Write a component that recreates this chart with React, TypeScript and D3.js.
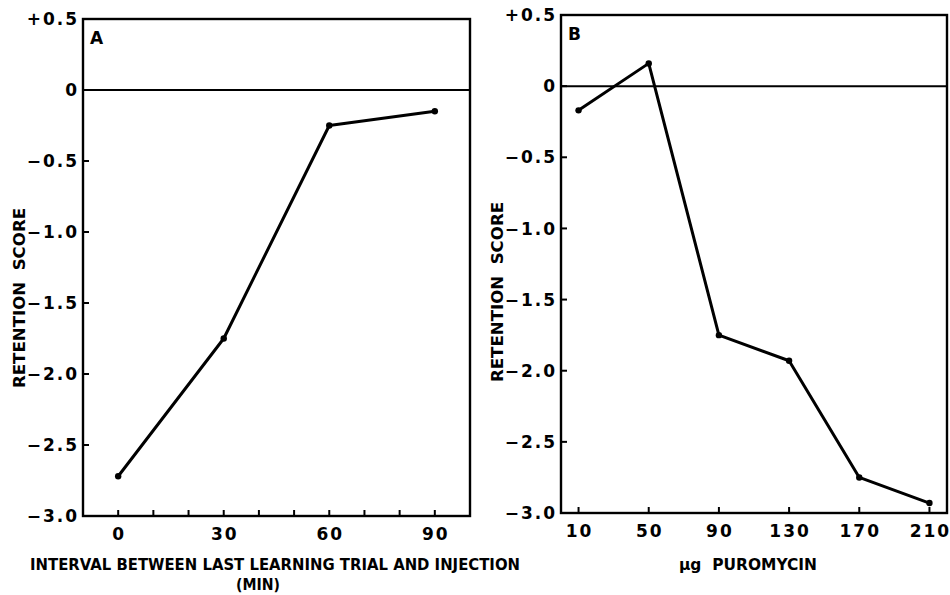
import React, { useRef, useEffect } from 'react';
import * as d3 from 'd3';

// Panel A: retention vs interval between last learning trial and injection
const intervalMin = [0, 30, 60, 90];
const intervalScore = [-2.72, -1.75, -0.25, -0.15];

// Panel B: retention vs puromycin dose
const doseUg = [10, 50, 90, 130, 170, 210];
const doseScore = [-0.17, 0.16, -1.75, -1.93, -2.75, -2.93];

const yTicks = [0.5, 0, -0.5, -1.0, -1.5, -2.0, -2.5, -3.0];
const yTickLabels = ['+0.5', '0', '\u22120.5', '\u22121.0', '\u22121.5', '\u22122.0', '\u22122.5', '\u22123.0'];
const xTicksA = [0, 10, 20, 30, 40, 50, 60, 70, 80, 90];
const xLabelsA = [0, 30, 60, 90];
const xTicksB = [10, 50, 90, 130, 170, 210];

const FONT = "'DejaVu Sans', 'Liberation Sans', sans-serif";
const W = 950;
const H = 595;

interface PanelCfg {
  left: number; right: number; top: number; bottom: number;
  xDomain: [number, number];
  xs: number[]; ys: number[];
  ticks: number[]; labels: number[];
  letter: string;
  yLabelX: number; yLabelY: number;
  xTitle: string[];
  xTitleX: number[];
  xTitleLen: number[];
}

const panels: PanelCfg[] = [
  {
    left: 83, right: 470, top: 19, bottom: 516,
    xDomain: [-10, 100],
    xs: intervalMin, ys: intervalScore,
    ticks: xTicksA, labels: xLabelsA,
    letter: 'A', yLabelX: 19, yLabelY: 298,
    xTitle: ['INTERVAL BETWEEN LAST LEARNING TRIAL AND INJECTION', '(MIN)'],
    xTitleX: [275, 258], xTitleLen: [490, 44],
  },
  {
    left: 561, right: 947, top: 15, bottom: 513,
    xDomain: [0, 220],
    xs: doseUg, ys: doseScore,
    ticks: xTicksB, labels: xTicksB,
    letter: 'B', yLabelX: 497, yLabelY: 292,
    xTitle: ['\u00b5g  PUROMYCIN'],
    xTitleX: [748], xTitleLen: [138],
  },
];

export default function App() {
  const svgRef = useRef<SVGSVGElement>(null);

  useEffect(() => {
    const svg = d3.select(svgRef.current);
    svg.selectAll('*').remove();

    svg.append('rect').attr('width', W).attr('height', H).attr('fill', '#fff');

    panels.forEach(p => {
      const x = d3.scaleLinear().domain(p.xDomain).range([p.left, p.right]);
      const y = d3.scaleLinear().domain([-3.0, 0.5]).range([p.bottom, p.top]);
      const g = svg.append('g');

      // frame
      g.append('rect')
        .attr('x', p.left).attr('y', p.top)
        .attr('width', p.right - p.left).attr('height', p.bottom - p.top)
        .attr('fill', 'none').attr('stroke', '#000').attr('stroke-width', 2.4);

      // zero line
      g.append('line')
        .attr('x1', p.left).attr('x2', p.right)
        .attr('y1', y(0)).attr('y2', y(0))
        .attr('stroke', '#000').attr('stroke-width', 2);

      // y ticks (inward) + labels
      yTicks.forEach((t, i) => {
        g.append('line')
          .attr('x1', p.left).attr('x2', p.left + 6)
          .attr('y1', y(t)).attr('y2', y(t))
          .attr('stroke', '#000').attr('stroke-width', 2);
        g.append('text')
          .attr('x', p.left - 4).attr('y', y(t))
          .attr('dy', '0.36em')
          .attr('text-anchor', 'end')
          .style('font-family', FONT).style('font-weight', 'bold').style('font-size', '17px')
          .style('letter-spacing', '2px')
          .text(yTickLabels[i]);
      });

      // x ticks (inward)
      p.ticks.forEach(t => {
        g.append('line')
          .attr('x1', x(t)).attr('x2', x(t))
          .attr('y1', p.bottom).attr('y2', p.bottom - 6)
          .attr('stroke', '#000').attr('stroke-width', 2);
      });
      p.labels.forEach(t => {
        g.append('text')
          .attr('x', x(t) + 1).attr('y', p.bottom + 18)
          .attr('dy', '0.36em')
          .attr('text-anchor', 'middle')
          .style('font-family', FONT).style('font-weight', 'bold').style('font-size', '17px')
          .style('letter-spacing', '2px')
          .text(String(t));
      });

      // panel letter
      g.append('text')
        .attr('x', p.left + 7).attr('y', p.top + 25)
        .style('font-family', FONT).style('font-weight', 'bold').style('font-size', '17px')
        .text(p.letter);

      // y title
      g.append('text')
        .attr('transform', `translate(${p.yLabelX},${p.yLabelY}) rotate(-90)`)
        .attr('dy', '0.36em')
        .attr('text-anchor', 'middle')
        .attr('textLength', 180)
        .attr('lengthAdjust', 'spacingAndGlyphs')
        .attr('xml:space', 'preserve')
        .style('font-family', FONT).style('font-weight', 'bold').style('font-size', '16px')
        .text('RETENTION  SCORE');

      // x title
      p.xTitle.forEach((s, i) => {
        g.append('text')
          .attr('x', p.xTitleX[i]).attr('y', 565 + i * 20)
          .attr('dy', '0.36em')
          .attr('text-anchor', 'middle')
          .attr('textLength', p.xTitleLen[i])
          .attr('lengthAdjust', 'spacingAndGlyphs')
          .attr('xml:space', 'preserve')
          .style('font-family', FONT).style('font-weight', 'bold').style('font-size', '15px')
          .text(s);
      });

      // data line
      const pts = p.xs.map((v, i) => [v, p.ys[i]] as [number, number]);
      const line = d3.line<[number, number]>().x(d => x(d[0])).y(d => y(d[1]));
      g.append('path')
        .attr('d', line(pts))
        .attr('fill', 'none').attr('stroke', '#000').attr('stroke-width', 3)
        .attr('stroke-linejoin', 'round');

      g.selectAll('circle.pt')
        .data(pts)
        .enter()
        .append('circle')
        .attr('class', 'pt')
        .attr('cx', d => x(d[0])).attr('cy', d => y(d[1]))
        .attr('r', 3.2)
        .attr('fill', '#000');
    });
  }, []);

  return (
    <svg
      ref={svgRef}
      width={W}
      height={H}
      style={{ position: 'absolute', left: 0, top: 0 }}
    />
  );
}
